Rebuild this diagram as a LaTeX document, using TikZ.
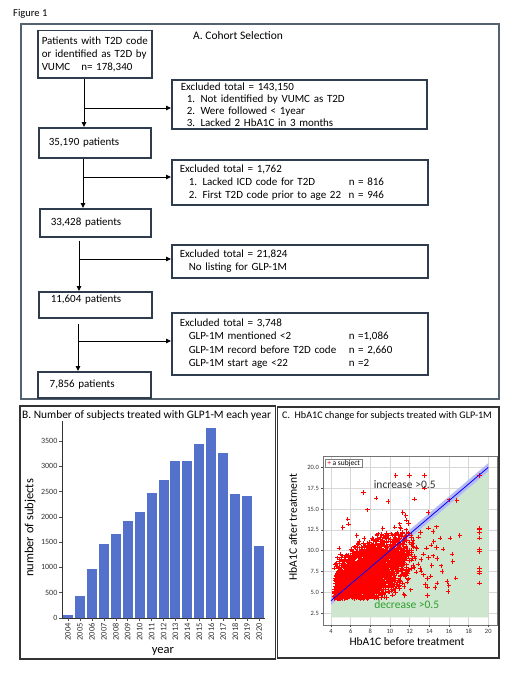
\documentclass[tikz,border=0pt]{standalone}
\usepackage{fontspec}
\setmainfont{Carlito}
\usetikzlibrary{arrows.meta}
\definecolor{boxc}{RGB}{46,60,78}
\definecolor{framec}{RGB}{84,98,112}
\definecolor{barc}{RGB}{84,113,204}
\definecolor{grc}{RGB}{44,160,44}
\definecolor{grfill}{RGB}{206,229,206}
\definecolor{bandc}{RGB}{182,186,242}
\definecolor{gridc}{RGB}{215,215,215}
\begin{document}
\begin{tikzpicture}[x=1pt,y=-1pt,
  fbox/.style={draw=boxc, line width=1.5pt, anchor=north west, align=left,
    inner xsep=0pt, inner ysep=0pt, font=\fontsize{11}{13}\selectfont},
  arr/.style={line width=1pt, -{Triangle[length=5pt,width=4.5pt]}},
  frame/.style={draw=framec, line width=1.3pt},
  pframe/.style={draw=black!80, line width=1.2pt},
  ptmark/.style={draw=red, line width=0.8pt},
  tick/.style={draw=black!70, line width=0.5pt},
]
\fill[white] (0,0) rectangle (513,685);
\useasboundingbox (0,0) rectangle (513,685);

% ---------- Panel A ----------
\node[anchor=west, inner sep=0pt, font=\fontsize{10.5}{12}\selectfont] (fig) at (13,14) {Figure 1};
\draw[frame] (21,24) rectangle (499,399);
\node[anchor=west, inner sep=0pt, font=\fontsize{11.5}{13}\selectfont] (ta) at (193,36) {A. Cohort Selection};

\node[fbox, text width=114pt, minimum height=47pt] (b1) at (37,30)
  {\hspace*{4pt}Patients with T2D code\\\hspace*{4pt}or identified as T2D by\\\hspace*{4pt}VUMC\quad n= 178,340};
\node[fbox, text width=255pt, minimum height=49pt, font=\fontsize{11}{12}\selectfont] (e1) at (171,79)
  {\hspace*{9pt}Excluded total = 143,150\\
   \hspace*{15pt}1. Not identified by VUMC as T2D\\
   \hspace*{15pt}2. Were followed < 1year\\
   \hspace*{15pt}3. Lacked 2 HbA1C in 3 months};
\node[fbox, text width=112pt, minimum height=30pt] (b2) at (38,127)
  {\hspace*{10pt}35,190 patients};
\node[fbox, text width=256pt, minimum height=45pt] (e2) at (171,159)
  {\hspace*{8pt}Excluded total = 1,762\\
   \hspace*{8pt}\makebox[169pt][l]{\hspace*{9pt}1. Lacked ICD code for T2D}n = 816\\
   \hspace*{8pt}\makebox[169pt][l]{\hspace*{9pt}2. First T2D code prior to age 22}n = 946};
\node[fbox, text width=111pt, minimum height=28pt] (b3) at (39,208)
  {\hspace*{11pt}33,428 patients};
\node[fbox, text width=256pt, minimum height=33pt] (e3) at (171,244)
  {\hspace*{8pt}Excluded total = 21,824\\
   \hspace*{17pt}No listing for GLP-1M};
\node[fbox, text width=113pt, text height=8pt, text depth=12pt, inner ysep=3pt] (b4) at (38,291)
  {\hspace*{12pt}11,604 patients};
\node[fbox, text width=256pt, minimum height=62pt, font=\fontsize{11}{13.3}\selectfont] (e4) at (171,312)
  {\hspace*{8pt}Excluded total = 3,748\\
   \hspace*{8pt}\makebox[169pt][l]{\hspace*{9pt}GLP-1M mentioned <2}n =1,086\\
   \hspace*{8pt}\makebox[169pt][l]{\hspace*{9pt}GLP-1M record before T2D code}n = 2,660\\
   \hspace*{8pt}\makebox[169pt][l]{\hspace*{9pt}GLP-1M start age <22}n =2};
\node[fbox, text width=113pt, minimum height=26pt] (b5) at (37,371)
  {\hspace*{12pt}7,856 patients};

\coordinate (j1) at (84,108);
\coordinate (j2) at (83,177);
\coordinate (j3) at (79,259);
\coordinate (j4) at (78,341);
\draw[arr] (b1.south -| j1) -- (b2.north -| j1);
\draw[arr] (j1) -- (e1.west |- j1);
\draw[arr] (b2.south -| j2) -- (b3.north -| j2);
\draw[arr] (j2) -- (e2.west |- j2);
\draw[arr, shorten <=3pt] (b3.south -| j3) -- (b4.north -| j3);
\draw[arr] (j3) -- (e3.west |- j3);
\draw[arr, shorten <=5pt] (b4.south -| j4) -- (b5.north -| j4);
\draw[arr] (j4) -- (e4.west |- j4);

% ---------- Panel B ----------
\draw[pframe] (20,406) rectangle (275.5,659);
\node[anchor=west, inner sep=0pt, font=\fontsize{11.4}{13}\selectfont] (tb) at (22,416)
  {B. Number of subjects treated with GLP1-M each year};
\begin{scope}[shift={(68pt,-618pt)}, x=11.94pt, y=0.0506pt]
  \foreach \v [count=\i from 0] in {60,430,960,1460,1670,1920,2100,2470,2730,3100,3100,3430,3750,3260,2460,2420,1420}
    \fill[barc] (\i-0.42,0) rectangle (\i+0.42,\v);
  \draw[black!80, line width=0.7pt] (-0.5,3893) -- (-0.5,0) -- (16.5,0);
  \foreach \t in {0,500,...,3500} {
    \draw[tick] (-0.5,\t) -- ++(-3pt,0pt);
    \node[anchor=east, inner sep=0pt, font=\fontsize{8}{9}\selectfont, text=black!80] at ([xshift=-4.5pt]-0.5,\t) {\t};
  }
  \foreach \yr [count=\i from 0] in {2004,2005,...,2020} {
    \draw[tick] (\i,0) -- ++(0pt,-3pt);
    \node[anchor=east, rotate=90, inner sep=0pt, font=\fontsize{8.5}{9}\selectfont, text=black!80] at ([yshift=-5pt]\i,0) {\yr};
  }
\end{scope}
\node[rotate=90, inner sep=0pt, font=\fontsize{12.5}{14}\selectfont] (ylb) at (30,528) {number of subjects};
\node[inner sep=0pt, font=\fontsize{12.5}{14}\selectfont] (xlb) at (163,651) {year};

% ---------- Panel C ----------
\draw[pframe] (277.5,407) rectangle (499,658);
\node[anchor=west, inner sep=0pt, font=\fontsize{10.1}{12}\selectfont] (tc) at (282,416)
  {C.\ \ HbA1C change for subjects treated with GLP-1M};
\begin{scope}[shift={(291.68pt,-634.1pt)}, x=9.83pt, y=8.34pt]
  \foreach \gx in {4,6,...,20} \draw[gridc, line width=0.5pt] (\gx,1.1) -- (\gx,21.36);
  \foreach \gy in {2.5,5,...,20} \draw[gridc, line width=0.5pt] (3.19,\gy) -- (20.9,\gy);
  \fill[grfill] (4,2) -- (4,3.5) -- (20,19.5) -- (20,2) -- cycle;
  \fill[bandc] (4,3.5) -- (20,19.5) -- (20,20.5) -- (4,4.5) -- cycle;
  \pgfmathsetseed{11}
  \foreach \k in {1,...,2200} {
    \pgfmathsetmacro\xa{7.8+1.9*(rand+rand+rand)}
    \pgfmathsetmacro\xv{max(\xa,4.3+0.6*rnd)}
    \pgfmathsetmacro\ya{7.4+0.55*(\xv-7.8)+1.6*(rand+rand+rand)}
    \pgfmathsetmacro\yv{max(\ya,4.2+0.5*rnd)}
    \draw[ptmark] (\xv,\yv) +(-2.2pt,0pt) -- +(2.2pt,0pt) +(0pt,-2.2pt) -- +(0pt,2.2pt);
  }
  \foreach \k in {1,...,180} {
    \pgfmathsetmacro\xa{9.5+2.6*(rand+rand+rand)}
    \pgfmathsetmacro\xv{min(max(\xa,4.4+0.8*rnd),17.5)}
    \pgfmathsetmacro\ya{7.6+0.35*(\xv-9.5)+2.2*(rand+rand+rand)}
    \pgfmathsetmacro\yv{max(\ya,4.3+0.8*rnd)}
    \draw[ptmark] (\xv,\yv) +(-2.2pt,0pt) -- +(2.2pt,0pt) +(0pt,-2.2pt) -- +(0pt,2.2pt);
  }
  \foreach \qx/\qy in {10.6/19,12/19,13.5/19,13.5/17.5,7.3/17,8.6/16.3,9.8/15.9,12.5/16.2,
      16/16.1,16.8/16,19.1/19,5.7/13.8,5.8/13.2,5.2/12.8,7.7/14.9,11.3/14.6,11.6/14.2,
      19.1/12.7,19.1/12.5,19.1/12.2,19.1/11.5,19.1/10.2,19.1/9.9,19.1/7.9,19.1/7.5,19.1/7.3,19.1/6.1,
      17.1/11.8,15.1/11.5,16.1/11.5,16.3/9.6,16.4/8.7,16.7/6.7,15.8/6.3,14.8/6.1,14.75/10.4,
      14.4/9.4,15.4/10.2,13.9/9.2,13.9/12.7,14.4/12.3,13.1/12.2,15.2/8.2,13.4/7.1,14.6/5.6,15.9/5.1}
    \draw[ptmark] (\qx,\qy) +(-2.2pt,0pt) -- +(2.2pt,0pt) +(0pt,-2.2pt) -- +(0pt,2.2pt);
  \draw[blue, line width=0.8pt] (4,4) -- (20,20);
  \draw[black!55, line width=0.6pt] (3.19,1.1) rectangle (20.9,21.36);
  \foreach \gx in {4,6,...,20} {
    \draw[tick] (\gx,1.1) -- ++(0pt,-2.5pt);
    \node[anchor=north, inner sep=0pt, font=\fontsize{6.5}{7}\selectfont, text=black!80] at ([yshift=-4pt]\gx,1.1) {\gx};
  }
  \foreach \gy/\lab in {2.5/2.5,5/5.0,7.5/7.5,10/10.0,12.5/12.5,15/15.0,17.5/17.5,20/20.0} {
    \draw[tick] (3.19,\gy) -- ++(-2.5pt,0pt);
    \node[anchor=east, inner sep=0pt, font=\fontsize{6.5}{7}\selectfont, text=black!80] at ([xshift=-4pt]3.19,\gy) {\lab};
  }
  \node[text=black!80, inner sep=0pt, font=\fontsize{11.5}{13}\selectfont] (inc) at (11.5,17.9) {increase >0.5};
  \node[text=grc, inner sep=0pt, font=\fontsize{11.5}{13}\selectfont] (dec) at (11.7,3.5) {decrease >0.5};
\end{scope}
\node[draw=black!50, line width=0.5pt, fill=white, anchor=north west, inner xsep=2pt, inner ysep=1pt,
  font=\fontsize{7.5}{8}\selectfont] (leg) at (325,459) {{\color{red}+}\ a subject};
\node[rotate=90, inner sep=0pt, font=\fontsize{11.5}{13}\selectfont] (ylc) at (293,527) {HbA1C after treatment};
\node[inner sep=0pt, font=\fontsize{11.5}{13}\selectfont] (xlc) at (407,642) {HbA1C before treatment};
\end{tikzpicture}
\end{document}
